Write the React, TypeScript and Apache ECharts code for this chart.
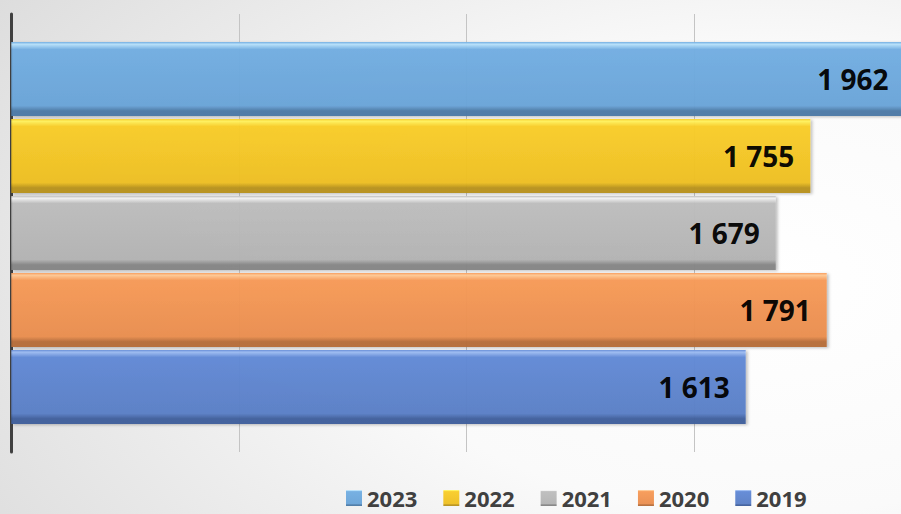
import React, { useEffect, useRef } from "react";
import * as echarts from "echarts";

const years = ["2023", "2022", "2021", "2020", "2019"];
const values = [1962, 1755, 1679, 1791, 1613];
const legendOrder = ["2023", "2022", "2021", "2020", "2019"];
const xTicks = [0, 500, 1000, 1500, 2000];

// [highlight, base, base-bottom, dark] per year
const palettes: Record<string, [string, string, string, string]> = {
  "2019": ["#9dbcf2", "#6189d6", "#5a7fc6", "#405f9c"],
  "2020": ["#ffc995", "#f79a57", "#ea8e4f", "#b66d3a"],
  "2021": ["#f2f2f2", "#bdbdbd", "#b3b3b3", "#858585"],
  "2022": ["#fff25e", "#f9cd28", "#eebf22", "#b8921c"],
  "2023": ["#b7e1fb", "#72aee2", "#6aa4d8", "#4c7aa6"],
};

function fmt(v: number): string {
  return String(v).replace(/\B(?=(\d{3})+(?!\d))/g, " ");
}

function grad(y: string) {
  const [hi, base, base2, dark] = palettes[y];
  return new echarts.graphic.LinearGradient(0, 0, 0, 1, [
    { offset: 0, color: base },
    { offset: 0.03, color: hi },
    { offset: 0.1, color: base },
    { offset: 0.86, color: base2 },
    { offset: 0.93, color: dark },
    { offset: 1, color: dark },
  ]);
}

export default function App() {
  const ref = useRef<HTMLDivElement>(null);
  useEffect(() => {
    if (!ref.current) return;
    const chart = echarts.init(ref.current, undefined, { renderer: "svg" });
    const series = years.map((y, i) => ({
      name: y,
      type: "bar",
      data: [values[i]],
      barWidth: 74,
      barGap: "4%",
      itemStyle: {
        color: grad(y),
        opacity: 0.96,
        shadowColor: "rgba(0,0,0,0.25)",
        shadowBlur: 3,
        shadowOffsetX: 2,
        shadowOffsetY: 1,
      },
      label: {
        show: true,
        position: "insideRight",
        distance: 16,
        formatter: (p: any) => fmt(p.value),
        color: "#000000",
        fontFamily: "Open Sans",
        fontWeight: "bold",
        fontSize: 28,
      },
    }));
    chart.setOption({
      animation: false,
      backgroundColor: new echarts.graphic.RadialGradient(0.85, 0.55, 1.5, [
        { offset: 0, color: "#ffffff" },
        { offset: 0.3, color: "#fafafa" },
        { offset: 1, color: "#c4c4c4" },
      ]),
      grid: {
        left: 11.3,
        width: 910.6,
        top: 14,
        height: 438,
        containLabel: false,
        outerBoundsMode: "none",
      },
      xAxis: {
        type: "value",
        min: xTicks[0],
        max: xTicks[xTicks.length - 1],
        interval: 500,
        axisLabel: { show: false },
        axisLine: { show: false },
        axisTick: { show: false },
        splitLine: { show: true, lineStyle: { color: "#c4c4c4", width: 1 } },
      },
      yAxis: {
        type: "category",
        data: [""],
        axisLine: { show: true, lineStyle: { color: "#404040", width: 3 } },
        axisTick: { show: false },
        axisLabel: { show: false },
      },
      legend: {
        data: legendOrder,
        left: 346,
        top: 487,
        padding: 0,
        itemWidth: 16,
        itemHeight: 16,
        itemGap: 26,
        icon: "rect",
        textStyle: {
          color: "#404040",
          fontFamily: "Open Sans",
          fontWeight: "bold",
          fontSize: 22,
          lineHeight: 20,
        },
      },
      series,
    });
    return () => chart.dispose();
  }, []);
  return (
    <div
      ref={ref}
      style={{ position: "absolute", left: 0, top: 0, width: 901, height: 514 }}
    />
  );
}
